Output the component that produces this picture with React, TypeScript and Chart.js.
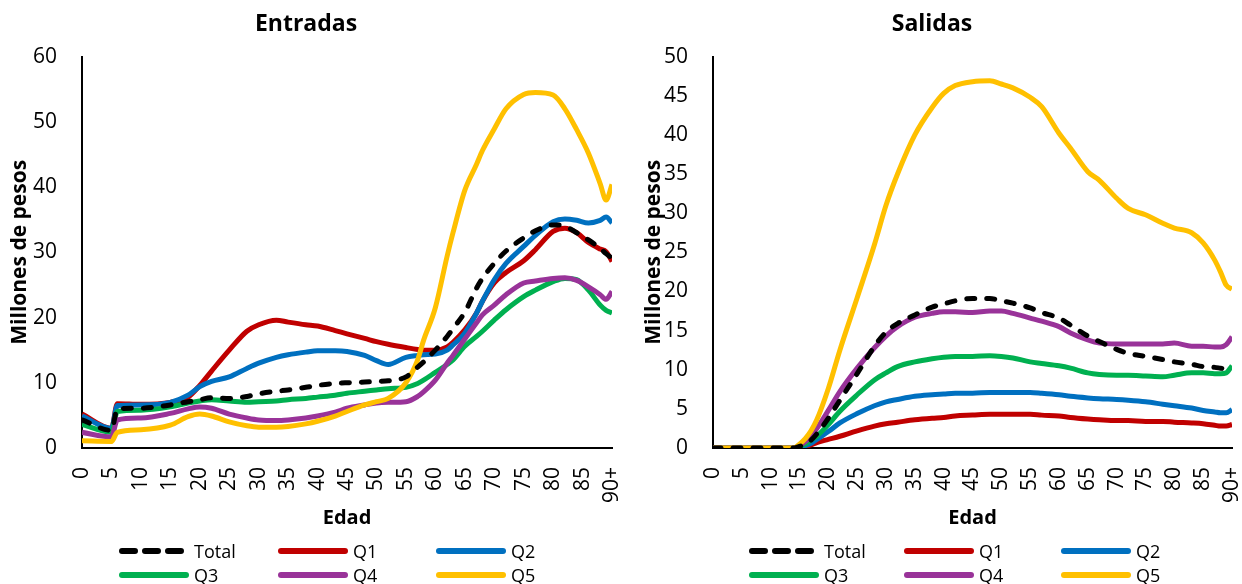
import React, { useEffect, useRef } from 'react';
import { Chart, registerables } from 'chart.js';

Chart.register(...registerables);

const FONT = "'Open Sans', 'Noto Sans', sans-serif";

// ---------- Entradas ----------
const L_AGES = [0, 5, 6, 10, 15, 18, 20, 22, 25, 28, 30, 33, 35, 38, 40, 43, 45, 48, 50, 52, 55, 57, 58, 60, 62, 63, 65, 67, 68, 70, 72, 75, 77, 80, 82, 84, 86, 88, 89, 90];
const L_TOTAL = [4.3, 2.7, 6.0, 6.1, 6.6, 7.1, 7.4, 7.7, 7.6, 7.9, 8.3, 8.7, 8.9, 9.3, 9.6, 9.9, 10.0, 10.1, 10.2, 10.3, 10.9, 12.4, 13.2, 15.0, 17.1, 18.3, 20.8, 24.5, 26.0, 28.3, 30.2, 32.2, 33.3, 34.2, 34.0, 33.0, 31.9, 30.6, 29.8, 29.1];
const L_Q1 = [5.2, 3.0, 6.8, 6.7, 7.0, 7.8, 9.6, 11.8, 15.0, 17.9, 18.9, 19.6, 19.3, 18.9, 18.7, 18.0, 17.5, 16.8, 16.3, 15.9, 15.4, 15.1, 15.0, 15.0, 15.5, 16.2, 18.1, 20.7, 22.5, 25.3, 26.9, 28.7, 30.4, 33.2, 33.7, 33.0, 31.5, 30.5, 30.1, 28.6];
const L_Q2 = [4.9, 3.0, 6.5, 6.6, 7.0, 8.1, 9.4, 10.2, 10.9, 12.2, 13.0, 13.9, 14.3, 14.7, 14.9, 14.9, 14.8, 14.2, 13.4, 12.8, 13.9, 14.2, 14.3, 14.4, 15.0, 15.8, 17.6, 20.7, 22.5, 25.8, 28.3, 30.9, 32.6, 34.7, 35.1, 34.9, 34.5, 34.9, 35.4, 34.5];
const L_Q3 = [3.6, 2.4, 5.6, 5.8, 6.3, 6.9, 7.2, 7.4, 7.2, 7.0, 7.1, 7.2, 7.4, 7.6, 7.8, 8.1, 8.4, 8.7, 8.9, 9.1, 9.3, 9.9, 10.4, 11.6, 12.8, 13.5, 15.6, 17.1, 17.9, 19.6, 21.2, 23.2, 24.2, 25.5, 26.0, 25.8, 24.2, 21.9, 21.1, 20.7];
const L_Q4 = [2.4, 1.7, 4.3, 4.6, 5.3, 6.0, 6.3, 6.1, 5.2, 4.6, 4.3, 4.2, 4.3, 4.6, 4.9, 5.5, 6.1, 6.6, 6.9, 7.0, 7.1, 7.9, 8.6, 10.4, 13.0, 14.2, 16.7, 19.2, 20.4, 21.9, 23.5, 25.3, 25.6, 26.0, 26.1, 25.7, 24.7, 23.5, 22.8, 24.0];
const L_Q5 = [1.1, 1.0, 2.4, 2.8, 3.5, 4.8, 5.2, 4.9, 4.0, 3.4, 3.2, 3.2, 3.3, 3.7, 4.1, 4.9, 5.6, 6.6, 7.1, 7.6, 10.0, 13.5, 16.5, 21.5, 29.4, 33.0, 39.5, 43.5, 45.6, 48.9, 52.0, 54.2, 54.5, 54.1, 52.0, 48.8, 45.2, 40.5, 38.0, 40.4];

// ---------- Salidas ----------
const R_AGES = [0, 14, 15, 16, 17, 18, 20, 22, 25, 28, 30, 32, 35, 38, 40, 42, 45, 48, 50, 52, 55, 57, 60, 62, 65, 67, 70, 72, 75, 78, 80, 83, 85, 87, 88, 89, 90];
const R_TOTAL = [0, 0, 0.2, 0.5, 1.0, 1.8, 3.8, 6.1, 9.5, 13.0, 14.8, 15.9, 17.0, 18.0, 18.4, 18.8, 19.1, 19.1, 18.8, 18.5, 17.9, 17.3, 16.6, 15.7, 14.3, 13.6, 12.6, 12.1, 11.7, 11.3, 11.0, 10.7, 10.4, 10.3, 10.2, 10.1, 10.3];
const R_Q1 = [0, 0, 0.05, 0.2, 0.4, 0.7, 1.1, 1.5, 2.2, 2.8, 3.1, 3.3, 3.6, 3.8, 3.9, 4.1, 4.2, 4.3, 4.3, 4.3, 4.3, 4.2, 4.1, 3.9, 3.7, 3.6, 3.5, 3.5, 3.4, 3.4, 3.3, 3.2, 3.1, 2.9, 2.8, 2.8, 3.0];
const R_Q2 = [0, 0, 0.1, 0.3, 0.6, 1.1, 2.1, 3.2, 4.4, 5.4, 5.9, 6.2, 6.6, 6.8, 6.9, 7.0, 7.0, 7.1, 7.1, 7.1, 7.1, 7.0, 6.8, 6.6, 6.4, 6.3, 6.2, 6.1, 5.9, 5.6, 5.4, 5.1, 4.8, 4.6, 4.5, 4.5, 4.9];
const R_Q3 = [0, 0, 0.2, 0.5, 1.0, 1.5, 3.0, 4.7, 6.8, 8.7, 9.6, 10.4, 11.0, 11.4, 11.6, 11.7, 11.7, 11.8, 11.7, 11.5, 11.0, 10.8, 10.5, 10.2, 9.6, 9.4, 9.3, 9.3, 9.2, 9.1, 9.3, 9.6, 9.6, 9.5, 9.5, 9.6, 10.5];
const R_Q4 = [0, 0, 0.3, 0.8, 1.6, 2.5, 4.8, 7.2, 10.2, 12.8, 14.3, 15.5, 16.7, 17.2, 17.4, 17.4, 17.3, 17.5, 17.5, 17.2, 16.6, 16.2, 15.5, 14.7, 13.8, 13.4, 13.3, 13.3, 13.3, 13.3, 13.4, 13.0, 13.0, 12.9, 12.9, 13.2, 14.2];
const R_Q5 = [0, 0, 0.5, 1.2, 2.2, 3.6, 7.6, 12.5, 19.2, 26.0, 31.0, 35.0, 40.0, 43.5, 45.3, 46.3, 46.8, 46.9, 46.5, 46.0, 44.8, 43.6, 40.2, 38.3, 35.3, 34.2, 31.9, 30.6, 29.8, 28.7, 28.1, 27.5, 26.2, 24.0, 22.5, 20.8, 20.3];

const SERIES_NAMES = ['Total', 'Q1', 'Q2', 'Q3', 'Q4', 'Q5'];
const SERIES_COLORS = ['#000000', '#C00000', '#0070C0', '#00B050', '#993399', '#FFC000'];
const SERIES_ORDER = [0, 5, 4, 3, 2, 1];

const LEFT_VALUES = [L_TOTAL, L_Q1, L_Q2, L_Q3, L_Q4, L_Q5];
const RIGHT_VALUES = [R_TOTAL, R_Q1, R_Q2, R_Q3, R_Q4, R_Q5];

type ChartProps = {
  title: string;
  ages: number[];
  values: number[][];
  yMax: number;
  yStep: number;
  yWidth: number;
  yTitlePad: number;
  left: number;
  width: number;
};

function AgeChart(p: ChartProps) {
  const ref = useRef<HTMLCanvasElement>(null);
  useEffect(() => {
    const chart = new Chart(ref.current as HTMLCanvasElement, {
      type: 'line',
      data: {
        datasets: SERIES_NAMES.map((name, i) => ({
          label: name,
          data: p.ages.map((a, j) => ({ x: a, y: p.values[i][j] })),
          borderColor: SERIES_COLORS[i],
          backgroundColor: SERIES_COLORS[i],
          borderWidth: 5,
          borderDash: i === 0 ? [8, 12] : [],
          borderCapStyle: i === 0 ? 'round' : 'butt',
          borderJoinStyle: 'round',
          pointRadius: 0,
          cubicInterpolationMode: 'monotone',
          fill: false,
          order: SERIES_ORDER[i],
        })),
      },
      options: {
        responsive: false,
        animation: false,
        layout: { padding: { left: 0, right: 10, top: 0, bottom: 54 } },
        plugins: {
          legend: { display: false },
          tooltip: { enabled: false },
          title: {
            display: true,
            text: p.title,
            color: '#000',
            font: { family: FONT, size: 23, weight: 'bold' },
            padding: { top: 11, bottom: 18 },
          },
        },
        scales: {
          x: {
            type: 'linear',
            min: 0,
            max: 90,
            grid: { display: false, drawTicks: false },
            border: { display: true, color: '#000', width: 2 },
            ticks: {
              stepSize: 5,
              autoSkip: false,
              maxRotation: 90,
              minRotation: 90,
              padding: 19,
              color: '#000',
              font: { family: FONT, size: 21 },
              callback: (v: any) => (Number(v) === 90 ? '90+' : String(v)),
            },
            title: {
              display: true,
              text: 'Edad',
              color: '#000',
              font: { family: FONT, size: 20, weight: 'bold' },
              padding: 0,
            },
            afterFit: (s: any) => {
              s.height = 82;
              s.paddingLeft = 0;
              s.paddingRight = 0;
            },
          },
          y: {
            min: 0,
            max: p.yMax,
            grid: { display: false, drawTicks: false },
            border: { display: true, color: '#000', width: 2 },
            ticks: {
              stepSize: p.yStep,
              padding: 25,
              color: '#000',
              font: { family: FONT, size: 21 },
            },
            title: {
              display: true,
              text: 'Millones de pesos',
              color: '#000',
              font: { family: FONT, size: 21, weight: 'bold' },
              padding: { top: p.yTitlePad, bottom: 0 },
            },
            afterFit: (s: any) => {
              s.width = p.yWidth;
              s.paddingTop = 0;
              s.paddingBottom = 0;
            },
          },
        },
      } as any,
    });
    return () => chart.destroy();
  }, []);
  return (
    <canvas
      ref={ref}
      width={p.width}
      height={584}
      style={{ position: 'absolute', left: p.left, top: 0, width: p.width, height: 584 }}
    />
  );
}

const LEGEND_ROWS = [551, 575];
const LEFT_LEGEND_COLS = [119, 278, 436];
const RIGHT_LEGEND_COLS = [749, 904, 1061];

function Legend({ cols }: { cols: number[] }) {
  return (
    <>
      {SERIES_NAMES.map((name, i) => {
        const x = cols[i % 3];
        const y = LEGEND_ROWS[Math.floor(i / 3)];
        return (
          <div
            key={name}
            style={{
              position: 'absolute',
              left: x,
              top: y - 12,
              height: 24,
              display: 'flex',
              alignItems: 'center',
              whiteSpace: 'nowrap',
            }}
          >
            <svg width={70} height={12} style={{ display: 'block' }}>
              <line
                x1={3}
                y1={6}
                x2={67}
                y2={6}
                stroke={SERIES_COLORS[i]}
                strokeWidth={6}
                strokeLinecap="round"
                strokeDasharray={i === 0 ? '13 10' : undefined}
              />
            </svg>
            <span style={{ marginLeft: 5, fontFamily: FONT, fontSize: 18, color: '#000', lineHeight: '24px' }}>
              {name}
            </span>
          </div>
        );
      })}
    </>
  );
}

export default function App() {
  return (
    <div
      style={{
        position: 'absolute',
        left: 0,
        top: 0,
        width: 1242,
        height: 584,
        overflow: 'hidden',
        background: '#fff',
      }}
    >
      <AgeChart
        title="Entradas"
        ages={L_AGES}
        values={LEFT_VALUES}
        yMax={60}
        yStep={10}
        yWidth={82}
        yTitlePad={7}
        left={0}
        width={622}
      />
      <AgeChart
        title="Salidas"
        ages={R_AGES}
        values={RIGHT_VALUES}
        yMax={50}
        yStep={5}
        yWidth={81}
        yTitlePad={9}
        left={632}
        width={610}
      />
      <Legend cols={LEFT_LEGEND_COLS} />
      <Legend cols={RIGHT_LEGEND_COLS} />
    </div>
  );
}
